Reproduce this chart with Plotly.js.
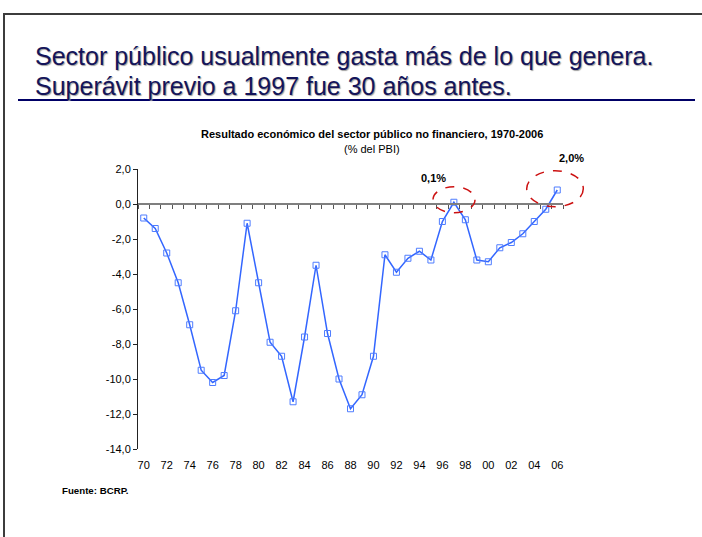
<!DOCTYPE html>
<html>
<head>
<meta charset="utf-8">
<script src="https://cdn.plot.ly/plotly-3.0.1.min.js"></script>
<style>
  html, body { margin: 0; padding: 0; background: #ffffff; }
  #chart { width: 702px; height: 537px; }
</style>
</head>
<body>
<div id="chart"></div>
<script>
// ---- data ----
const years = [1970, 1971, 1972, 1973, 1974, 1975, 1976, 1977, 1978, 1979,
               1980, 1981, 1982, 1983, 1984, 1985, 1986, 1987, 1988, 1989,
               1990, 1991, 1992, 1993, 1994, 1995, 1996, 1997, 1998, 1999,
               2000, 2001, 2002, 2003, 2004, 2005, 2006];
const resultado = [-0.8, -1.4, -2.8, -4.5, -6.9, -9.5, -10.2, -9.8, -6.1, -1.1,
                   -4.5, -7.9, -8.7, -11.3, -7.6, -3.5, -7.4, -10.0, -11.7, -10.9,
                   -8.7, -2.9, -3.9, -3.1, -2.7, -3.2, -1.0, 0.1, -0.9, -3.2,
                   -3.3, -2.5, -2.2, -1.7, -1.0, -0.3, 0.8];
const xTickVals = [1970, 1972, 1974, 1976, 1978, 1980, 1982, 1984, 1986, 1988,
                   1990, 1992, 1994, 1996, 1998, 2000, 2002, 2004, 2006];
const xTickText = ['70', '72', '74', '76', '78', '80', '82', '84', '86', '88',
                   '90', '92', '94', '96', '98', '00', '02', '04', '06'];
const yTickVals = [2, 0, -2, -4, -6, -8, -10, -12, -14];
const yTickText = ['2,0', '0,0', '-2,0', '-4,0', '-6,0', '-8,0', '-10,0', '-12,0', '-14,0'];
const headerLine1 = 'Sector público usualmente gasta más de lo que genera.';
const headerLine2 = 'Superávit previo a 1997 fue 30 años antes.';
const chartTitle = '<b>Resultado económico del sector público no financiero, 1970-2006</b>';
const chartSubtitle = '(% del PBI)';
const callout1997 = '0,1%';
const callout2006 = '2,0%';
const sourceText = '<b>Fuente: BCRP.</b>';

// ---- layout geometry (pixels) ----
const W = 702, H = 537;
const M = { l: 138, r: 139, t: 169, b: 88 };
const PW = W - M.l - M.r, PH = H - M.t - M.b;
const px = v => (v - M.l) / PW;          // pixel x -> paper
const py = v => (H - M.b - v) / PH;      // pixel y -> paper
const FONT = '"Liberation Sans", Arial, sans-serif';
const xRange = [1969.5, 2006.5];
const yRange = [-14, 2];
const headerFont = { family: FONT, size: 25, color: '#14145a', shadow: '1px 1px 1px #a0a0a0' };

const traces = [
  {
    x: years, y: resultado, xaxis: 'x', yaxis: 'y',
    type: 'scatter', mode: 'lines+markers',
    line: { color: '#3366ff', width: 1.5 },
    marker: { symbol: 'square-open', size: 6, color: '#4f7dff', line: { width: 1 } },
    hoverinfo: 'x+y', showlegend: false
  },
  {
    x: years, y: resultado, xaxis: 'x2', yaxis: 'y',
    type: 'scatter', mode: 'lines', opacity: 0,
    hoverinfo: 'skip', showlegend: false
  }
];

const layout = {
  width: W, height: H,
  margin: M,
  paper_bgcolor: '#ffffff', plot_bgcolor: 'rgba(0,0,0,0)',
  font: { family: FONT, size: 11, color: '#000000' },
  showlegend: false,
  xaxis: {
    range: xRange, showgrid: false, zeroline: false, showline: false,
    ticks: '', tickmode: 'array', tickvals: xTickVals, ticktext: xTickText,
    ticklabelstandoff: 8,
    tickfont: { family: FONT, size: 11, color: '#000000' }, fixedrange: true
  },
  xaxis2: {
    overlaying: 'x', matches: 'x', anchor: 'free',
    position: (0 - yRange[0]) / (yRange[1] - yRange[0]),
    range: xRange, showgrid: false, zeroline: false,
    showline: true, linecolor: '#7f7f7f', linewidth: 2,
    ticks: 'outside', ticklen: 4, tickwidth: 1, tickcolor: '#555555',
    tickmode: 'linear', tick0: 1969.5, dtick: 1, showticklabels: false
  },
  yaxis: {
    range: yRange, showgrid: false, zeroline: false,
    showline: true, linecolor: '#222222', linewidth: 1,
    ticks: 'outside', ticklen: 4, tickcolor: '#222222',
    tickmode: 'array', tickvals: yTickVals, ticktext: yTickText,
    tickfont: { family: FONT, size: 11, color: '#000000' }, fixedrange: true
  },
  annotations: [
    { text: headerLine1, xref: 'paper', yref: 'paper', x: px(33), y: py(56),
      xanchor: 'left', yanchor: 'middle', showarrow: false, font: headerFont },
    { text: headerLine2, xref: 'paper', yref: 'paper', x: px(33), y: py(86),
      xanchor: 'left', yanchor: 'middle', showarrow: false, font: headerFont },
    { text: chartTitle, xref: 'paper', yref: 'paper', x: px(372), y: py(134),
      xanchor: 'center', yanchor: 'middle', showarrow: false,
      font: { family: FONT, size: 11, color: '#000000' } },
    { text: chartSubtitle, xref: 'paper', yref: 'paper', x: px(372), y: py(149),
      xanchor: 'center', yanchor: 'middle', showarrow: false,
      font: { family: FONT, size: 11, color: '#000000' } },
    { text: '<b>' + callout1997 + '</b>', xref: 'paper', yref: 'paper', x: px(433), y: py(178),
      xanchor: 'center', yanchor: 'middle', showarrow: false,
      font: { family: FONT, size: 11, color: '#000000' } },
    { text: '<b>' + callout2006 + '</b>', xref: 'paper', yref: 'paper', x: px(571), y: py(158),
      xanchor: 'center', yanchor: 'middle', showarrow: false,
      font: { family: FONT, size: 11, color: '#000000' } },
    { text: sourceText, xref: 'paper', yref: 'paper', x: px(60), y: py(490),
      xanchor: 'left', yanchor: 'middle', showarrow: false,
      font: { family: FONT, size: 9.7, color: '#000000' } }
  ],
  shapes: [
    // frame
    { type: 'line', xref: 'paper', yref: 'paper', x0: px(4), x1: px(4), y0: py(H + 2), y1: py(14),
      line: { color: '#3c3c3c', width: 2 } },
    { type: 'line', xref: 'paper', yref: 'paper', x0: px(3), x1: px(W + 2), y0: py(14), y1: py(14),
      line: { color: '#3c3c3c', width: 2 } },
    // header underline
    { type: 'line', xref: 'paper', yref: 'paper', x0: px(18), x1: px(695), y0: py(100), y1: py(100),
      line: { color: '#000066', width: 2 } },
    // red dashed ellipses
    { type: 'circle', xref: 'paper', yref: 'paper', x0: px(433), x1: px(475), y0: py(212.7), y1: py(186.7),
      line: { color: '#cc1111', width: 1.5, dash: 'dash' } },
    { type: 'circle', xref: 'paper', yref: 'paper', x0: px(526.7), x1: px(583.3), y0: py(206.7), y1: py(170.7),
      line: { color: '#cc1111', width: 1.5, dash: 'dash' } }
  ]
};

Plotly.newPlot('chart', traces, layout, { displayModeBar: false, staticPlot: true });
</script>
</body>
</html>
